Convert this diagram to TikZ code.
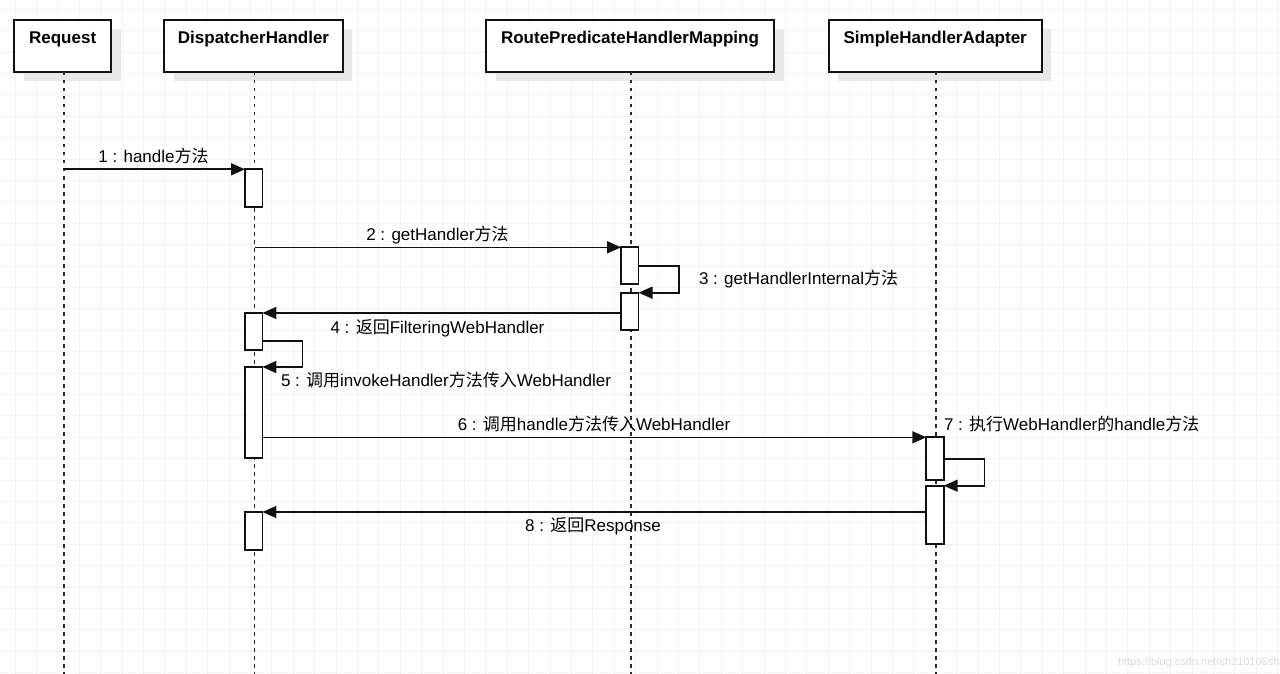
\documentclass[tikz,border=0pt]{standalone}
\usepackage{fontspec}
\setmainfont{Liberation Sans}
\newfontfamily\cjkfont{Noto Sans CJK SC}
\newcommand\zhs[1]{{\cjkfont #1}}
\usetikzlibrary{arrows.meta,shadows}
\definecolor{gridc}{HTML}{F3F3F3}
\definecolor{shadowc}{HTML}{E8E8E8}
\definecolor{linec}{HTML}{111111}
\definecolor{lifec}{HTML}{2A2A2A}
\begin{document}
\begin{tikzpicture}[x=1pt,y=-1pt,
  every node/.style={font=\fontsize{17}{20}\selectfont, inner sep=0pt, outer sep=0pt},
  gridline/.style={draw=gridc, line width=1pt},
  actor/.style={draw=linec, line width=1.8pt, fill=white, minimum height=52pt,
    drop shadow={shadow xshift=9.5pt, shadow yshift=-9.5pt, fill=shadowc, opacity=1}},
  title/.style={font=\fontsize{17}{20}\selectfont\bfseries, anchor=base},
  life/.style={draw=lifec, line width=1.5pt, dash pattern=on 3.5pt off 4.5pt},
  act/.style={draw=linec, line width=1.7pt, fill=white, minimum width=17.4pt},
  msg/.style={draw=linec, line width=1.6pt, -{Triangle[length=14pt,width=12pt]}},
  lbl/.style={anchor=base, text=black}
]
\useasboundingbox (0,0) rectangle (1280,674);
\fill[white] (0,0) rectangle (1280,674);
% grid
\foreach \k in {0,...,59} {\draw[gridline] ({15+21.4*\k},0) -- ({15+21.4*\k},674);}
\foreach \k in {0,...,31} {\draw[gridline] (0,{9.3+21.4*\k}) -- (1280,{9.3+21.4*\k});}

% participants
\node[actor, minimum width=96.7pt] (req) at (62.65,46) {};
\node[actor, minimum width=178.4pt] (disp) at (253.5,46) {};
\node[actor, minimum width=288pt] (route) at (630,46) {};
\node[actor, minimum width=213pt] (sha) at (935.2,46) {};
\node[title] (reqt) at (62.65,43.5) {Request};
\node[title] (dispt) at (253.5,43.5) {DispatcherHandler};
\node[title] (routet) at (630,43.5) {RoutePredicateHandlerMapping};
\node[title] (shat) at (935.2,43.5) {SimpleHandlerAdapter};

% lifelines
\coordinate (reqend) at (64,674);
\coordinate (dispend) at (254.5,674);
\coordinate (routeend) at (631,674);
\coordinate (shaend) at (936,674);
\draw[life] (req.south -| reqend) -- (reqend);
\draw[life] (disp.south -| dispend) -- (dispend);
\draw[life] (route.south -| routeend) -- (routeend);
\draw[life] (sha.south -| shaend) -- (shaend);

% activations
\node[act, minimum height=38pt] (d1) at (253.7,188.3) {};
\node[act, minimum height=36.7pt] (r1) at (629.8,265.65) {};
\node[act, minimum height=37.3pt] (r2) at (629.8,311.35) {};
\node[act, minimum height=37pt] (d2) at (253.7,331.5) {};
\node[act, minimum height=91.3pt] (d3) at (253.7,412.65) {};
\node[act, minimum height=42.7pt] (s1) at (935,458.65) {};
\node[act, minimum height=58.6pt] (s2) at (935,515) {};
\node[act, minimum height=37.7pt] (d4) at (253.7,530.85) {};

% messages
\draw[msg] (reqend |- d1.north) -- (d1.north west);
\draw[msg] (dispend |- r1.north) -- (r1.north west);
\draw[msg] ([yshift=-18.4pt]r1.north east) -- ++(40.5,0) |- (r2.north east);
\draw[msg] (r2.west |- d2.north) -- (d2.north east);
\draw[msg] ([yshift=-28pt]d2.north east) -- ++(40,0) |- (d3.north east);
\draw[msg] (d3.east |- s1.north) -- (s1.north west);
\draw[msg] ([yshift=-21.7pt]s1.north east) -- ++(40.6,0) |- (s2.north east);
\draw[msg] (s2.west |- d4.north) -- (d4.north east);

% labels
\node[lbl] (m1) at (153.5,162.7) {1 : handle\zhs{方法}};
\node[lbl] (m2) at (437.5,240) {2 : getHandler\zhs{方法}};
\node[lbl, anchor=base west] (m3) at (699,284.3) {3 : getHandlerInternal\zhs{方法}};
\node[lbl] (m4) at (437.5,333) {4 : \zhs{返回}FilteringWebHandler};
\node[lbl, anchor=base west] (m5) at (281,386.7) {5 : \zhs{调用}invokeHandler\zhs{方法传入}WebHandler};
\node[lbl] (m6) at (594,430) {6 : \zhs{调用}handle\zhs{方法传入}WebHandler};
\node[lbl, anchor=base west] (m7) at (944,430) {7 : \zhs{执行}WebHandler\zhs{的}handle\zhs{方法}};
\node[lbl] (m8) at (593,531) {8 : \zhs{返回}Response};

% watermark
\node[anchor=base west, font=\fontsize{11}{13}\selectfont, text=black!14] (wm) at (1118,665) {https://blog.csdn.net/sh210106sh};
\end{tikzpicture}
\end{document}
